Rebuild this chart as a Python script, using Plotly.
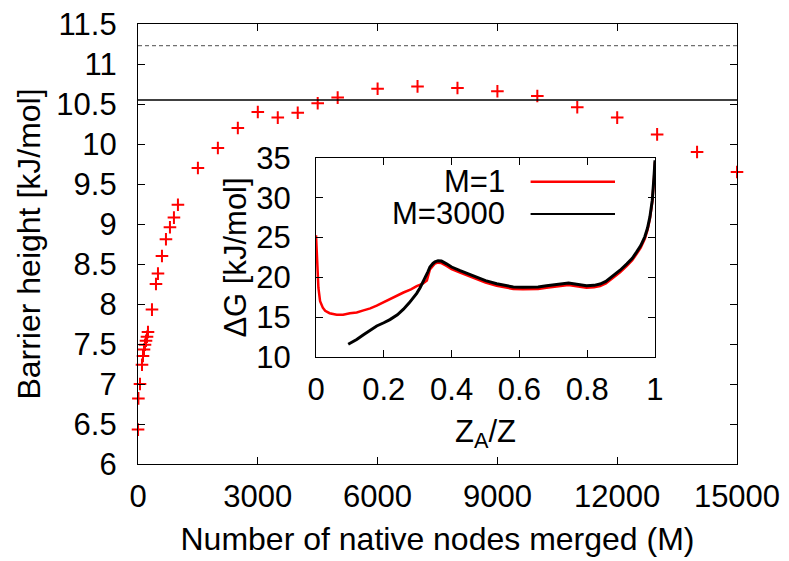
import plotly.graph_objects as go

# ---------------- data ----------------
merged_M = [1, 10, 50, 100, 125, 150, 175, 200, 225, 250, 350, 450, 500, 600, 700,
            800, 900, 1000, 1500, 2000, 2500, 3000, 3500, 4000, 4500, 5000, 6000,
            7000, 8000, 9000, 10000, 11000, 12000, 13000, 14000, 15000]
barrier = [6.43, 6.82, 7.00, 7.24, 7.35, 7.43, 7.49, 7.54, 7.59, 7.65, 7.93, 8.25,
           8.38, 8.60, 8.81, 8.96, 9.08, 9.24, 9.70, 9.95, 10.20, 10.40, 10.33,
           10.39, 10.51, 10.58, 10.69, 10.72, 10.70, 10.66, 10.60, 10.46, 10.33,
           10.12, 9.90, 9.65]

ref_solid = 10.55
ref_dashed = 11.23

za_m1 = [0.0, 0.003, 0.007, 0.012, 0.02, 0.027, 0.04, 0.061, 0.08, 0.10, 0.12, 0.14,
         0.16, 0.179, 0.20, 0.218, 0.24, 0.258, 0.28, 0.297, 0.315, 0.327, 0.336,
         0.345, 0.351, 0.36, 0.37, 0.385, 0.40, 0.425, 0.45, 0.474, 0.50, 0.533,
         0.56, 0.582, 0.61, 0.631, 0.655, 0.68, 0.705, 0.73, 0.745, 0.759, 0.78,
         0.798, 0.82, 0.838, 0.855, 0.877, 0.897, 0.917, 0.933, 0.946, 0.958, 0.97,
         0.978, 0.985, 0.992, 0.997, 1.0]
dg_m1 = [25.3, 21.5, 18.7, 17.0, 16.2, 15.8, 15.5, 15.3, 15.3, 15.5, 15.6, 15.85,
         16.1, 16.45, 16.9, 17.3, 17.7, 18.1, 18.5, 18.9, 19.2, 19.6, 21.0,
         21.5, 21.75, 21.85, 21.8, 21.45, 21.05, 20.6, 20.15, 19.75, 19.35, 18.95,
         18.7, 18.55, 18.5, 18.48, 18.55, 18.7, 18.85, 19.05, 19.05, 18.95, 18.8,
         18.7, 18.75, 18.9, 19.25, 19.95, 20.65, 21.45, 22.15, 22.95, 23.75, 24.85,
         25.95, 27.35, 29.45, 32.4, 34.5]

za_m3000 = [0.095, 0.12, 0.14, 0.16, 0.179, 0.20, 0.218, 0.24, 0.258, 0.275, 0.287,
            0.297, 0.307, 0.315, 0.322, 0.33, 0.336, 0.345, 0.351, 0.36, 0.37, 0.385,
            0.40, 0.425, 0.45, 0.474, 0.50, 0.533, 0.56, 0.582, 0.61, 0.631, 0.655,
            0.68, 0.705, 0.73, 0.745, 0.759, 0.78, 0.798, 0.82, 0.838, 0.855, 0.877,
            0.897, 0.917, 0.933, 0.946, 0.958, 0.97, 0.978, 0.985, 0.992, 0.997, 1.0]
dg_m3000 = [11.6, 12.2, 12.8, 13.35, 13.9, 14.3, 14.7, 15.3, 16.0, 16.8, 17.4,
            18.0, 18.7, 19.3, 20.0, 20.7, 21.3, 21.75, 21.95, 22.1, 22.05, 21.7,
            21.3, 20.85, 20.4, 20.0, 19.6, 19.2, 18.95, 18.8, 18.75, 18.73, 18.8,
            18.95, 19.1, 19.3, 19.3, 19.2, 19.05, 18.95, 19.0, 19.16, 19.5, 20.2,
            20.9, 21.7, 22.4, 23.2, 24.0, 25.1, 26.2, 27.6, 29.7, 32.6, 34.7]

x_ticks_main = [0, 3000, 6000, 9000, 12000, 15000]
x_ticklabels_main = ["0", "3000", "6000", "9000", "12000", "15000"]
y_ticks_main = [6, 6.5, 7, 7.5, 8, 8.5, 9, 9.5, 10, 10.5, 11, 11.5]
y_ticklabels_main = ["6", "6.5", "7", "7.5", "8", "8.5", "9", "9.5", "10", "10.5", "11", "11.5"]
x_ticks_inset = [0, 0.2, 0.4, 0.6, 0.8, 1]
x_ticklabels_inset = ["0", "0.2", "0.4", "0.6", "0.8", "1"]
y_ticks_inset = [10, 15, 20, 25, 30, 35]
y_ticklabels_inset = ["10", "15", "20", "25", "30", "35"]
legend_names = ["M=1", "M=3000"]

# ---------------- figure ----------------
FONT = "Liberation Sans, Arial, sans-serif"
FS = 31
FT = 32

fig = go.Figure()

fig.add_trace(go.Scatter(
    x=merged_M, y=barrier, mode="markers", xaxis="x", yaxis="y",
    marker=dict(symbol="cross-thin", size=9, color="#ff0000",
                line=dict(color="#ff0000", width=2)),
    cliponaxis=False, showlegend=False))

fig.add_trace(go.Scatter(
    x=za_m1, y=dg_m1, mode="lines", xaxis="x2", yaxis="y2",
    line=dict(color="#ff0000", width=2.5), showlegend=False))
fig.add_trace(go.Scatter(
    x=za_m3000, y=dg_m3000, mode="lines", xaxis="x2", yaxis="y2",
    line=dict(color="#000000", width=3), showlegend=False))

axis_common = dict(
    showgrid=False, zeroline=False, showline=True, linecolor="black", linewidth=1.3,
    mirror="ticks", ticks="inside", ticklen=7, tickwidth=1.2, tickcolor="black",
    tickfont=dict(family=FONT, size=FS, color="black"), automargin=False,
    ticklabeloverflow="allow",
)

# the page body adds an 8px offset, so margins are shifted to compensate
fig.update_layout(
    width=789, height=561,
    margin=dict(l=130, r=60, t=16, b=105, autoexpand=False),
    paper_bgcolor="white", plot_bgcolor="white",
    font=dict(family=FONT, size=FS, color="black"),
    xaxis=dict(**axis_common, range=[0, 15000], tickvals=x_ticks_main,
               ticktext=x_ticklabels_main,
               ticklabelstandoff=5,
               title=dict(text="Number of native nodes merged (M)",
                          font=dict(family=FONT, size=FT), standoff=14),
               domain=[0, 1], anchor="y"),
    yaxis=dict(**axis_common, range=[6, 11.5], tickvals=y_ticks_main,
               ticktext=y_ticklabels_main,
               ticklabelstandoff=14,
               title=dict(text="Barrier height [kJ/mol]",
                          font=dict(family=FONT, size=FT), standoff=6),
               domain=[0, 1], anchor="x"),
    xaxis2=dict(**axis_common, range=[0, 1], tickvals=x_ticks_inset,
                ticktext=x_ticklabels_inset,
                ticklabelstandoff=5,
                title=dict(text="Z<sub>A</sub>/Z", font=dict(family=FONT, size=FS),
                           standoff=13),
                domain=[0.2972, 0.8631], anchor="y2"),
    yaxis2=dict(**axis_common, range=[10, 35], tickvals=y_ticks_inset,
                ticktext=y_ticklabels_inset,
                ticklabelstandoff=18,
                title=dict(text="ΔG [kJ/mol]", font=dict(family=FONT, size=FS),
                           standoff=0),
                domain=[0.2432, 0.6955], anchor="x2"),
)

# horizontal reference lines across the main plot
fig.add_shape(type="line", xref="x domain", yref="y", x0=0, x1=1,
              y0=ref_solid, y1=ref_solid, line=dict(color="black", width=1.3))
fig.add_shape(type="line", xref="x domain", yref="y", x0=0, x1=1,
              y0=ref_dashed, y1=ref_dashed,
              line=dict(color="#707070", width=1.2, dash="4px,3px"))

# gnuplot-style key inside the inset (text right, sample line after it)
key_colors = ["#ff0000", "#000000"]
key_rows = [0.881, 0.7186]
for name, col, yy in zip(legend_names, key_colors, key_rows):
    fig.add_annotation(xref="x2 domain", yref="y2 domain", x=0.5625, y=yy,
                       text=name, showarrow=False, xanchor="right", yanchor="middle",
                       font=dict(family=FONT, size=FS, color="black"))
    fig.add_shape(type="line", xref="x2 domain", yref="y2 domain",
                  x0=0.633, x1=0.882, y0=yy, y1=yy,
                  line=dict(color=col, width=2.5 if col != "#000000" else 2))

fig.write_html("out.html")
